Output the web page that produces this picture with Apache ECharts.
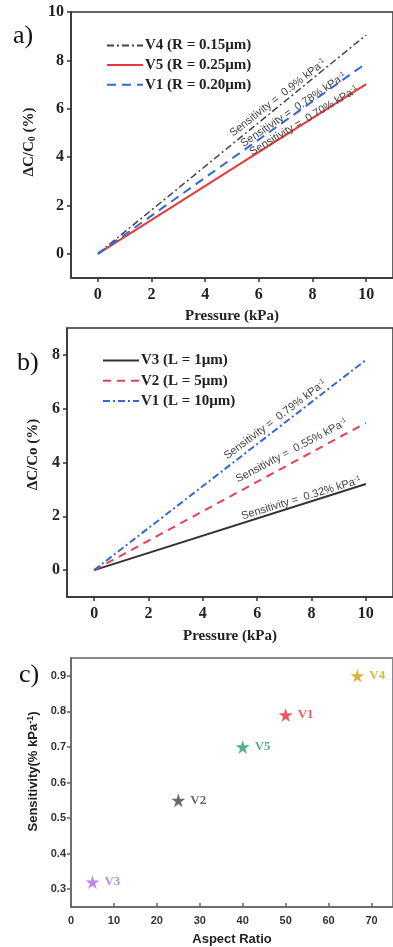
<!DOCTYPE html>
<html><head><meta charset="utf-8">
<script src="https://cdn.jsdelivr.net/npm/echarts@6/dist/echarts.min.js"></script>
<style>html,body{margin:0;padding:0;background:#fff}#c{width:393px;height:947px}</style>
</head><body><div id="c"></div>
<script>
// ---- Data ----
const pressure = [0, 10];
// panel a
const aV4 = [0, 9.05];
const aV5 = [0, 7.02];
const aV1 = [0, 7.88];
const aNames = ['V4 (R = 0.15µm)', 'V5 (R = 0.25µm)', 'V1 (R = 0.20µm)'];
// panel b
const bV3 = [0, 3.2];
const bV2 = [0, 5.47];
const bV1 = [0, 7.81];
const bNames = ['V3 (L = 1µm)', 'V2 (L = 5µm)', 'V1 (L = 10µm)'];
// panel c
const cLabels = ['V3', 'V2', 'V5', 'V1', 'V4'];
const cAspect = [5, 25, 40, 50, 66.7];
const cSens = [0.32, 0.55, 0.70, 0.79, 0.90];
// ticks
const aXTicks = [0, 2, 4, 6, 8, 10];
const aYTicks = [0, 2, 4, 6, 8, 10];
const bXTicks = [0, 2, 4, 6, 8, 10];
const bYTicks = [0, 2, 4, 6, 8];
const cXTicks = [0, 10, 20, 30, 40, 50, 60, 70];
const cYTicks = [0.3, 0.4, 0.5, 0.6, 0.7, 0.8, 0.9];
// annotations [x, y, text-value, angleDeg]
const aNotes = [[6.71, 6.45, '0.9', 38], [7.29, 5.95, '0.78', 34], [7.68, 5.5, '0.70', 31]];
const bNotes = [[6.66, 5.59, '0.79', 37], [7.27, 4.44, '0.55', 28], [7.62, 2.67, '0.32', 17]];

const SERIF = "'Liberation Serif','Times New Roman',serif";
const SANS = "'Liberation Sans',Arial,sans-serif";
const STAR = 'path://M50,0 L61,35 L98,35 L68,57 L79,91 L50,70 L21,91 L32,57 L2,35 L39,35 Z';
const cColors = ['#b36ae2', '#444444', '#2a9d6a', '#e8303a', '#d4a017'];

function pairs(xs, ys) { return xs.map((x, i) => [x, ys[i]]); }

const serifAxisLabel = {color: '#222', fontFamily: SERIF, fontWeight: 'bold', fontSize: 16};
function valAxis(gi, min, max, ticks, extra) {
  return Object.assign({
    type: 'value', gridIndex: gi, min: min, max: max,
    splitLine: {show: false},
    axisLine: {show: true, onZero: false, lineStyle: {color: '#333', width: 1.5}},
    axisTick: {show: true, inside: false, length: 4, customValues: ticks, lineStyle: {color: '#333', width: 1.5}},
    axisLabel: Object.assign({customValues: ticks, margin: 7}, serifAxisLabel),
    nameLocation: 'middle',
    nameTextStyle: {color: '#222', fontFamily: SERIF, fontWeight: 'bold', fontSize: 15}
  }, extra || {});
}

const option = {
  animation: false,
  backgroundColor: '#fff',
  grid: [
    {left: 71, top: 12, width: 332, height: 266, show: true, borderColor: '#333', borderWidth: 1.5, backgroundColor: 'transparent'},
    {left: 67, top: 328, width: 337, height: 269, show: true, borderColor: '#333', borderWidth: 1.5, backgroundColor: 'transparent'},
    {left: 71, top: 658, width: 333, height: 254, show: true, borderColor: '#888', borderWidth: 2, backgroundColor: 'transparent'}
  ],
  xAxis: [
    valAxis(0, -1, 11, aXTicks, {name: 'Pressure (kPa)', nameGap: 31, axisLabel: Object.assign({customValues: aXTicks, margin: 9}, serifAxisLabel)}),
    valAxis(1, -1, 11, bXTicks, {name: 'Pressure (kPa)', nameGap: 32, axisLabel: Object.assign({customValues: bXTicks, margin: 9}, serifAxisLabel)}),
    {
      type: 'value', gridIndex: 2, min: 0, max: 75,
      splitLine: {show: false},
      axisLine: {show: true, onZero: false, lineStyle: {color: '#666', width: 1.5}},
      axisTick: {show: true, inside: true, length: 4, customValues: cXTicks, lineStyle: {color: '#666', width: 1.5}},
      axisLabel: {customValues: cXTicks, margin: 8, color: '#333', fontFamily: SANS, fontWeight: 'bold', fontSize: 11},
      name: 'Aspect Ratio', nameLocation: 'middle', nameGap: 26,
      nameTextStyle: {color: '#222', fontFamily: SANS, fontWeight: 'bold', fontSize: 13}
    }
  ],
  yAxis: [
    valAxis(0, -1, 10, aYTicks, {
      name: '{a|ΔC/C}{s|0}{a| (%)}', nameGap: 26,
      nameTextStyle: {padding: [0, 0, 0, 6], rich: {
        a: {color: '#222', fontFamily: SERIF, fontWeight: 'bold', fontSize: 15},
        s: {color: '#222', fontFamily: SERIF, fontWeight: 'bold', fontSize: 10, verticalAlign: 'bottom', padding: [6, 0, 0, 0]}
      }}
    }),
    valAxis(1, -1, 9, bYTicks, {name: 'ΔC/Co (%)', nameGap: 22,
      nameTextStyle: {color: '#222', fontFamily: SERIF, fontWeight: 'bold', fontSize: 15, padding: [0, 0, 0, 16]}}),
    {
      type: 'value', gridIndex: 2, min: 0.25, max: 0.95,
      splitLine: {show: false},
      axisLine: {show: true, onZero: false, lineStyle: {color: '#666', width: 1.5}},
      axisTick: {show: true, inside: false, length: 4, customValues: cYTicks, lineStyle: {color: '#666', width: 1.5}},
      axisLabel: {customValues: cYTicks, margin: 5, color: '#333', fontFamily: SANS, fontWeight: 'bold', fontSize: 11,
        formatter: v => v.toFixed(1)},
      name: '{a|Sensitivity(% kPa}{s|-1}{a|)}', nameLocation: 'middle', nameGap: 26,
      nameTextStyle: {padding: [0, 0, 0, 22], rich: {
        a: {color: '#222', fontFamily: SANS, fontWeight: 'bold', fontSize: 13},
        s: {color: '#222', fontFamily: SANS, fontWeight: 'bold', fontSize: 9, verticalAlign: 'top', padding: [0, 0, 6, 0]}
      }}
    }
  ],
  legend: [
    {orient: 'vertical', left: 101, top: 33, itemWidth: 36, itemHeight: 14, itemGap: 4.6,
     data: aNames, itemStyle: {opacity: 0},
     textStyle: {color: '#222', fontFamily: SERIF, fontWeight: 'bold', fontSize: 15, padding: [0, 0, 0, -3]}},
    {orient: 'vertical', left: 97, top: 348, itemWidth: 36, itemHeight: 14, itemGap: 5.2,
     data: bNames, itemStyle: {opacity: 0},
     textStyle: {color: '#222', fontFamily: SERIF, fontWeight: 'bold', fontSize: 15, padding: [0, 0, 0, -3]}}
  ],
  series: [
    {name: aNames[0], type: 'line', xAxisIndex: 0, yAxisIndex: 0, symbol: 'none', data: pairs(pressure, aV4),
     lineStyle: {color: '#444', width: 1.5, type: [7, 3, 2, 3]}, itemStyle: {color: '#444'}, z: 3},
    {name: aNames[1], type: 'line', xAxisIndex: 0, yAxisIndex: 0, symbol: 'none', data: pairs(pressure, aV5),
     lineStyle: {color: '#e8383d', width: 2}, itemStyle: {color: '#e8383d'}},
    {name: aNames[2], type: 'line', xAxisIndex: 0, yAxisIndex: 0, symbol: 'none', data: pairs(pressure, aV1),
     lineStyle: {color: '#2f6bd8', width: 2, type: [9, 6]}, itemStyle: {color: '#2f6bd8'}},
    {name: bNames[0], type: 'line', xAxisIndex: 1, yAxisIndex: 1, symbol: 'none', data: pairs(pressure, bV3),
     lineStyle: {color: '#333', width: 2}, itemStyle: {color: '#333'}},
    {name: bNames[1], type: 'line', xAxisIndex: 1, yAxisIndex: 1, symbol: 'none', data: pairs(pressure, bV2),
     lineStyle: {color: '#e8404f', width: 2, type: [8, 6]}, itemStyle: {color: '#e8404f'}},
    {name: bNames[2], type: 'line', xAxisIndex: 1, yAxisIndex: 1, symbol: 'none', data: pairs(pressure, bV1),
     lineStyle: {color: '#2f6bd8', width: 2, type: [7, 3, 2, 3]}, itemStyle: {color: '#2f6bd8'}},
    {name: 'sens', type: 'scatter', xAxisIndex: 2, yAxisIndex: 2, symbol: STAR, symbolSize: 14,
     data: cAspect.map((x, i) => ({value: [x, cSens[i]], name: cLabels[i],
       itemStyle: {color: cColors[i]},
       label: {color: cColors[i]}})),
     label: {show: true, position: 'right', distance: 5, formatter: p => p.name,
       fontFamily: SERIF, fontWeight: 'bold', fontSize: 13}}
  ]
};

const chart = echarts.init(document.getElementById('c'), null, {renderer: 'canvas', width: 393, height: 947});
chart.setOption(option);

function noteGraphics(gi, notes) {
  return notes.map(n => {
    const p = chart.convertToPixel({gridIndex: gi}, [n[0], n[1]]);
    return {
      type: 'text', x: p[0], y: p[1], rotation: n[3] * Math.PI / 180,
      style: {
        text: '{a|Sensitivity =  ' + n[2] + '% kPa}{s|-1}',
        align: 'center', verticalAlign: 'middle',
        rich: {
          a: {fill: '#444', fontFamily: SANS, fontSize: 11},
          s: {fill: '#444', fontFamily: SANS, fontSize: 7, verticalAlign: 'top', padding: [0, 0, 5, 0]}
        }
      }, z: 10
    };
  });
}

const panelLabels = [
  {type: 'text', x: 13, y: 36, style: {text: 'a)', fill: '#111', font: '26px ' + SERIF, verticalAlign: 'middle'}},
  {type: 'text', x: 17, y: 363, style: {text: 'b)', fill: '#111', font: '26px ' + SERIF, verticalAlign: 'middle'}},
  {type: 'text', x: 19, y: 675, style: {text: 'c)', fill: '#111', font: '26px ' + SERIF, verticalAlign: 'middle'}}
];

chart.setOption({graphic: panelLabels.concat(noteGraphics(0, aNotes), noteGraphics(1, bNotes))});
</script></body></html>
